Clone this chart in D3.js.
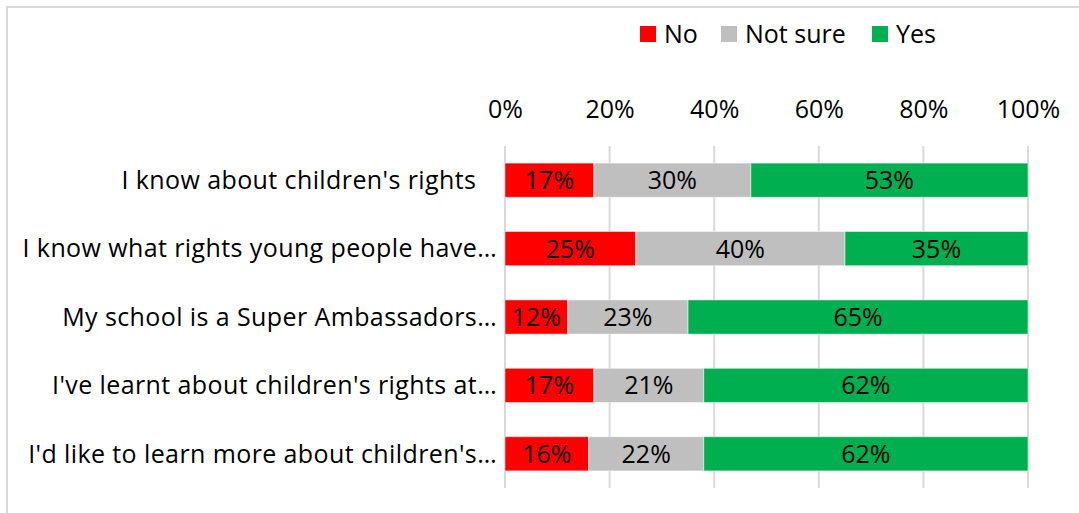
<!DOCTYPE html>
<html>
<head>
<meta charset="utf-8">
<script src="https://cdn.jsdelivr.net/npm/d3@7"></script>
<style>
  html, body { margin: 0; padding: 0; background: #fff; }
  svg text { font-family: "Open Sans", Lato, sans-serif; fill: #000; }
</style>
</head>
<body>
<svg id="chart" width="1079" height="513"></svg>
<script>
// Survey statements and share of responses (percent)
const categories = [
  "I know about children's rights   ",
  "I know what rights young people have…",
  "My school is a Super Ambassadors…",
  "I've learnt about children's rights at…",
  "I'd like to learn more about children's…"
];
const seriesNames = ["No", "Not sure", "Yes"];
const noValues      = [17, 25, 12, 17, 16];
const notSureValues = [30, 40, 23, 21, 22];
const yesValues     = [53, 35, 65, 62, 62];
const tickValues = [0, 20, 40, 60, 80, 100];
const tickLabels = ["0%", "20%", "40%", "60%", "80%", "100%"];

const colors = { "No": "#FF0000", "Not sure": "#BFBFBF", "Yes": "#00B050" };
const FONT_SIZE = 25;

const rows = categories.map((c, i) => ({
  category: c, "No": noValues[i], "Not sure": notSureValues[i], "Yes": yesValues[i]
}));
const stacked = d3.stack().keys(seriesNames)(rows);

const svg = d3.select("#chart");

// chart area frame
svg.append("rect")
  .attr("x", 7).attr("y", 7).attr("width", 1200).attr("height", 700)
  .attr("fill", "none").attr("stroke", "#D9D9D9").attr("stroke-width", 2);

const x = d3.scaleLinear().domain([0, 100]).range([505, 1028]);
const y = d3.scaleBand().domain(categories).range([146, 488]).paddingInner(0.5).paddingOuter(0.25);

// vertical gridlines
svg.append("g").selectAll("line").data(tickValues).join("line")
  .attr("x1", d => x(d)).attr("x2", d => x(d))
  .attr("y1", 146).attr("y2", 488)
  .attr("stroke", "#D9D9D9").attr("stroke-width", 2);

// top percent axis
const axis = d3.axisTop(x).tickValues(tickValues)
  .tickFormat((d, i) => tickLabels[i]).tickSize(0).tickPadding(0);
const gAxis = svg.append("g").attr("transform", "translate(0,118)").call(axis);
gAxis.select(".domain").remove();
gAxis.selectAll("text").attr("font-size", FONT_SIZE)
  .attr("font-family", "'Open Sans', sans-serif").attr("dy", 0);

// category labels
const yAxis = d3.axisLeft(y).tickSize(0).tickPadding(0);
const gY = svg.append("g").attr("transform", "translate(497,0)").call(yAxis);
gY.select(".domain").remove();
gY.selectAll("text").attr("font-size", FONT_SIZE)
  .attr("font-family", "'Open Sans', sans-serif")
  .attr("letter-spacing", "0.4px")
  .style("white-space", "pre").attr("dy", "0.35em");

// stacked bars
const layer = svg.append("g").selectAll("g").data(stacked).join("g")
  .attr("fill", d => colors[d.key]);
layer.selectAll("rect").data(d => d).join("rect")
  .attr("x", d => x(d[0]))
  .attr("width", d => x(d[1]) - x(d[0]))
  .attr("y", d => y(d.data.category))
  .attr("height", y.bandwidth())
  .attr("stroke", "#ffffff").attr("stroke-opacity", 0.5).attr("stroke-width", 1);

// value labels
layer.selectAll("text").data(d => d).join("text")
  .attr("x", d => (x(d[0]) + x(d[1])) / 2)
  .attr("y", d => y(d.data.category) + y.bandwidth() / 2)
  .attr("dy", "0.36em")
  .attr("text-anchor", "middle")
  .attr("font-size", FONT_SIZE)
  .text(d => (d[1] - d[0]) + "%");

// legend
const legendItems = [
  { key: "No", x: 640 },
  { key: "Not sure", x: 721 },
  { key: "Yes", x: 872 }
];
const lg = svg.append("g").selectAll("g").data(legendItems).join("g")
  .attr("transform", d => `translate(${d.x},26)`);
lg.append("rect").attr("width", 16).attr("height", 16).attr("fill", d => colors[d.key]);
lg.append("text").attr("x", 24).attr("y", 17)
  .attr("font-size", FONT_SIZE).text(d => d.key);
</script>
</body>
</html>
